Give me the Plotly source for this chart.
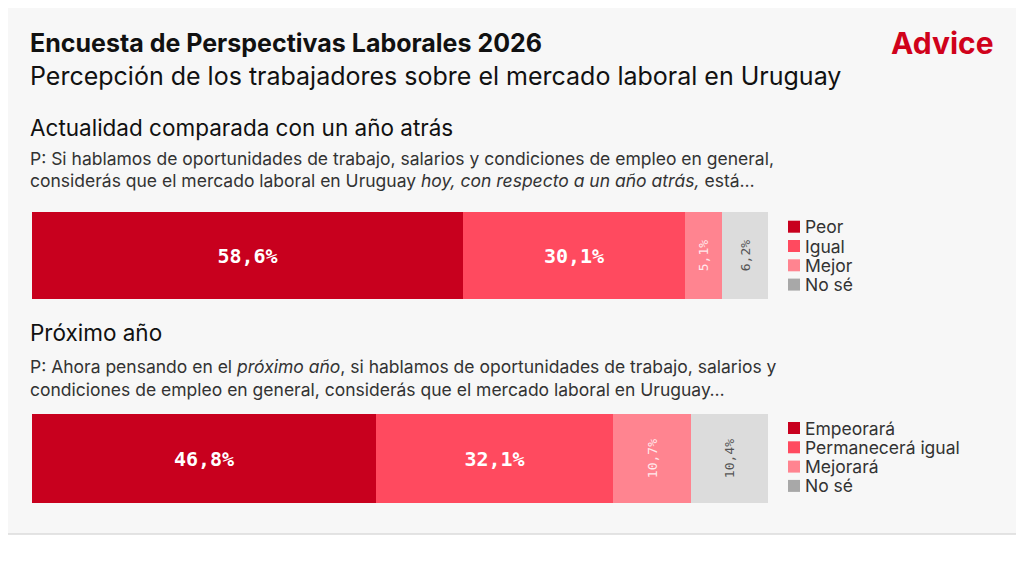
from typing import List

from plotly.graph_objs import Bar, Figure

# Datos
categorias_actual = ["Peor", "Igual", "Mejor", "No sé"]
valores_actual = [58.6, 30.1, 5.1, 6.2]

categorias_proximo = ["Empeorará", "Permanecerá igual", "Mejorará", "No sé"]
valores_proximo = [46.8, 32.1, 10.7, 10.4]

# Estilos
COLORES_BARRA = ["#c8001e", "#ff4a5f", "#ff8490", "#dcdcdc"]
COLORES_LEYENDA = ["#c8001e", "#ff4a5f", "#ff8490", "#a8a8a8"]
COLORES_TEXTO = ["#ffffff", "#ffffff", "#ffe9ec", "#555555"]
FUENTE = "Inter"
FUENTE_MONO = "DejaVu Sans Mono"

# la página añade 8px de margen al cuerpo: se compensa
OFF = 8
W, H = 1024 - OFF, 563 - OFF


def _px(x: float) -> float:
    return (x - OFF) / W


def _py(y: float) -> float:
    return 1 - (y - OFF) / H


def _fmt(v: float) -> str:
    return f"{v:.1f}".replace(".", ",") + "%"


def _add_stack(fig: Figure, cats: List[str], vals: List[float], xa: str, ya: str):
    for i, (c, v) in enumerate(zip(cats, vals)):
        small = v < 15
        fig.add_trace(Bar(
            x=[v], y=[0], orientation="h", width=1, xaxis=xa, yaxis=ya,
            name=c, showlegend=False,
            marker=dict(color=COLORES_BARRA[i], line=dict(width=0)),
            text=[_fmt(v) if small else f"<b>{_fmt(v)}</b>"],
            textposition="inside", insidetextanchor="middle",
            textangle=-90 if small else 0, constraintext="none",
            textfont=dict(family=FUENTE_MONO, size=13 if small else 20, color=COLORES_TEXTO[i]),
            hoverinfo="skip",
        ))


def _add_legend(fig: Figure, cats: List[str], y0_px: float, step: float = 19.3):
    for i, c in enumerate(cats):
        yc = y0_px + i * step
        fig.add_shape(type="rect", xref="paper", yref="paper",
                      x0=_px(788), x1=_px(800), y0=_py(yc + 6), y1=_py(yc - 6),
                      fillcolor=COLORES_LEYENDA[i], line=dict(width=0))
        fig.add_annotation(text=c, x=_px(803), y=_py(yc), xref="paper", yref="paper",
                           xanchor="left", yanchor="middle", showarrow=False,
                           font=dict(family=FUENTE, size=17.5, color="#333333"))


def _text(fig: Figure, txt: str, x_px: float, y_px: float, size: float, color: str = "#111111"):
    fig.add_annotation(text=txt, x=_px(x_px), y=_py(y_px), xref="paper", yref="paper",
                       xanchor="left", yanchor="middle", showarrow=False,
                       font=dict(family=FUENTE, size=size, color=color))


fig = Figure()
_add_stack(fig, categorias_actual, valores_actual, "x", "y")
_add_stack(fig, categorias_proximo, valores_proximo, "x2", "y2")

x_dom = [_px(32), _px(768)]
ejes = dict(showticklabels=False, showgrid=False, zeroline=False, fixedrange=True, showline=False)
fig.update_layout(
    width=W, height=H, margin=dict(l=0, r=0, t=0, b=0),
    paper_bgcolor="#ffffff", plot_bgcolor="rgba(0,0,0,0)",
    barmode="stack", bargap=0, showlegend=False,
    xaxis=dict(domain=x_dom, range=[0, 100], **ejes),
    yaxis=dict(domain=[_py(299), _py(212)], range=[-0.5, 0.5], **ejes),
    xaxis2=dict(domain=x_dom, range=[0, 100], anchor="y2", **ejes),
    yaxis2=dict(domain=[_py(503), _py(414)], range=[-0.5, 0.5], anchor="x2", **ejes),
)

fig.add_shape(type="rect", xref="paper", yref="paper", x0=_px(0.5), x1=_px(1022), y0=_py(534), y1=_py(0.5),
              fillcolor="#f7f7f7", line=dict(color="#dcdcdc", width=1.5), layer="below")

_add_legend(fig, categorias_actual, 226.7)
_add_legend(fig, categorias_proximo, 428)

_text(fig, "<b>Encuesta de Perspectivas Laborales 2026</b>", 28, 43, 25)
_text(fig, "Percepción de los trabajadores sobre el mercado laboral en Uruguay", 28, 76, 25)
_text(fig, "Actualidad comparada con un año atrás", 28, 127, 22.5)
_text(fig, "P: Si hablamos de oportunidades de trabajo, salarios y condiciones de empleo en general,", 28, 158, 17.5, "#333333")
_text(fig, "considerás que el mercado laboral en Uruguay <i>hoy, con respecto a un año atrás,</i> está…", 28, 181, 17.5, "#333333")
_text(fig, "Próximo año", 28, 332, 22.5)
_text(fig, "P: Ahora pensando en el <i>próximo año</i>, si hablamos de oportunidades de trabajo, salarios y", 28, 366, 17.5, "#333333")
_text(fig, "condiciones de empleo en general, considerás que el mercado laboral en Uruguay…", 28, 389, 17.5, "#333333")
fig.add_annotation(text="<b>Advice</b>", x=_px(996), y=_py(43), xref="paper", yref="paper",
                   xanchor="right", yanchor="middle", showarrow=False,
                   font=dict(family=FUENTE, size=30, color="#d0021b"))

fig.write_html("out.html")
